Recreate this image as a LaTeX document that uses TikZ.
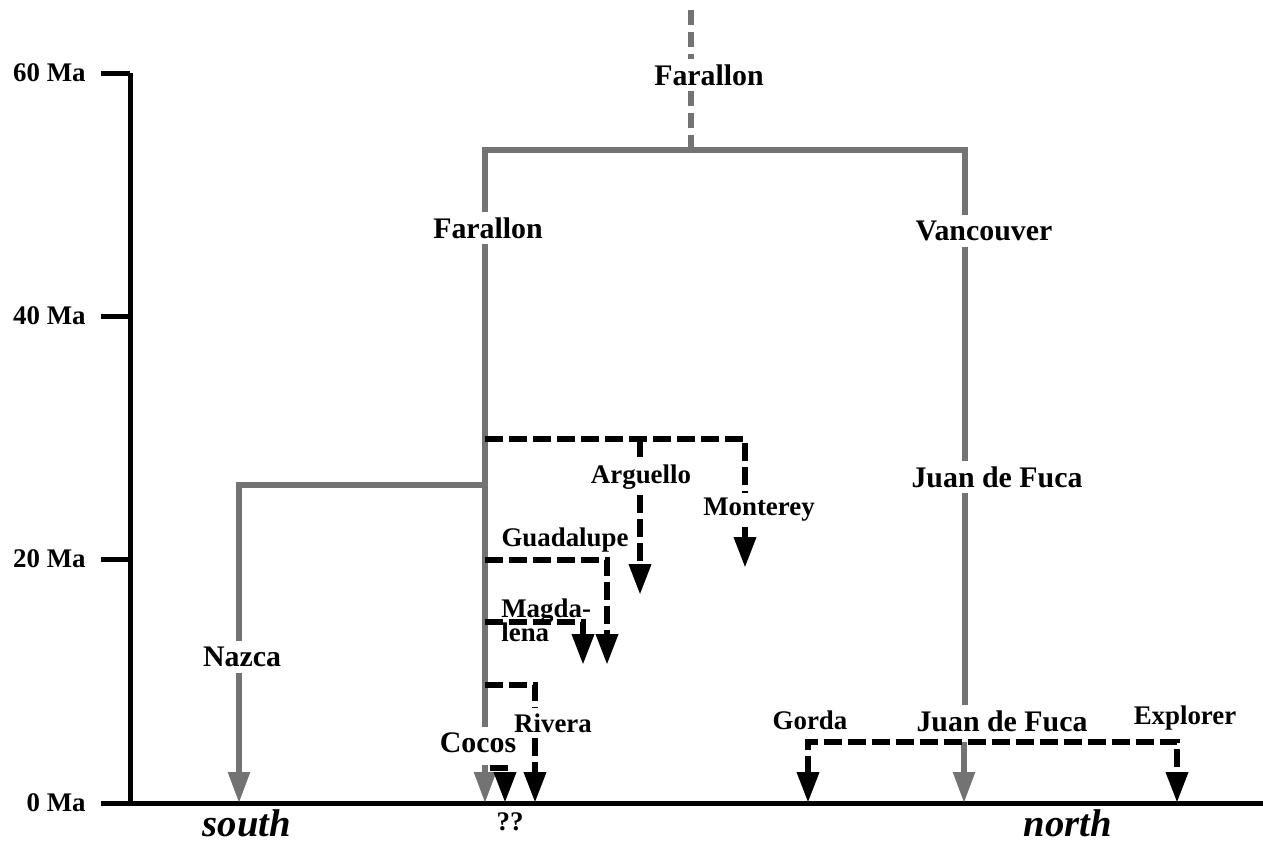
\documentclass[tikz,border=0pt]{standalone}
\usepackage{fontspec}
\setmainfont{Liberation Serif}
\usetikzlibrary{positioning,calc,arrows.meta}
\definecolor{plategray}{gray}{0.45}

\begin{document}
\begin{tikzpicture}[x=0.02cm,y=-0.02cm,
  lbl/.style={font=\fontsize{15.3}{14.2}\selectfont\bfseries,inner sep=3pt},
  biglbl/.style={font=\fontsize{17}{19}\selectfont\bfseries,inner sep=3pt},
  dirlbl/.style={font=\fontsize{22}{24}\selectfont\bfseries\itshape,inner sep=0pt},
  axis/.style={line width=0.1cm},
  old/.style={draw=plategray,line width=0.11cm},
  olddash/.style={old,dash pattern=on 0.3cm off 0.14cm},
  young/.style={draw=black,line width=0.13cm,dash pattern=on 0.36cm off 0.12cm},
  tip/.style={-{Triangle[width=0.42cm,length=0.62cm]}},
  tips/.style={{Triangle[width=0.42cm,length=0.62cm]}-{Triangle[width=0.42cm,length=0.62cm]}},
  graytip/.style={-{Triangle[width=0.42cm,length=0.62cm,fill=plategray,color=plategray]}}]
\useasboundingbox (0,0) rectangle (1263,846);
\foreach \t/\y in {60/73,40/316,20/559,0/803} {
  \coordinate (tk\t) at (130,\y);
  \node[lbl,anchor=east,inner sep=0pt] (ma\t) at (86,\y) {\t\ Ma};
  \draw[axis] (101,\y) -- (tk\t);
}
\coordinate (xend) at (1263,803);
\draw[axis] (tk60) -- (tk0) -- (xend);
\node[dirlbl,anchor=base] (south) at (247,836) {south};
\node[dirlbl,anchor=base] (north) at (1068,836) {north};
\coordinate (top) at (691,10);
\coordinate (split) at (691,150);
\coordinate (fL) at (485,150);
\coordinate (vR) at (965,150);
\node[biglbl] (farTop) at (709,75) {Farallon};
\node[biglbl] (farL) at (488,228) {Farallon};
\node[biglbl] (vanc) at (984,231) {Vancouver};
\node[biglbl] (jdf) at (997,477) {Juan de Fuca};
\node[biglbl] (jdfN) at (1002,721) {Juan de Fuca};
\node[biglbl] (cocos) at (478,743) {Cocos};
\node[biglbl] (nazca) at (242,657) {Nazca};
\draw[olddash] (top) -- (top |- farTop.north);
\draw[olddash] (top |- farTop.south) -- (split);
\draw[old] (fL |- farL.north) -- (fL) -- (vR) -- (vR |- vanc.north);
\draw[old] (fL |- farL.south) -- (fL |- cocos.north);
\draw[old] (vR |- vanc.south) -- (vR |- jdf.north);
\draw[old] (vR |- jdf.south) -- (vR |- jdfN.north);
\coordinate (jdfA) at (964,742);
\coordinate (jdfB) at (964,803);
\draw[old,graytip] (jdfA) -- (jdfB);
\coordinate (cocA) at (485,765);
\coordinate (cocB) at (485,803);
\draw[old,graytip] (cocA) -- (cocB);
\coordinate (nzSplit) at (485,485);
\coordinate (nzTop) at (239,485);
\coordinate (nzEnd) at (239,803);
\draw[old] (nzSplit) -- (nzTop) -- (nzTop |- nazca.north);
\draw[old,graytip] (nzTop |- nazca.south) -- (nzEnd);
\node[lbl] (arg) at (641,477) {Arguello};
\node[lbl] (mont) at (759,510) {Monterey};
\node[lbl] (gua) at (565,540) {Guadalupe};
\node[lbl,align=left,anchor=north west,inner sep=0pt] (mag) at (501,598) {Magda-\\lena};
\node[lbl] (riv) at (553,723) {Rivera};
\node[lbl] (qq) at (510,822) {??};
\coordinate (ySplit) at (485,439);
\coordinate (mtC) at (745,439);
\coordinate (mtEnd) at (745,568);
\coordinate (agC) at (640,439);
\coordinate (agEnd) at (640,595);
\draw[young] (ySplit) -- (mtC) -- (mtC |- mont.north);
\draw[young,tip] (mtC |- mont.south) -- (mtEnd);
\draw[young] (agC) -- (agC |- arg.north);
\draw[young,tip] (agC |- arg.south) -- (agEnd);
\coordinate (guA) at (485,560);
\coordinate (guB) at (607,665);
\draw[young,tip] (guA) -| (guB);
\coordinate (mgA) at (485,622);
\coordinate (mgB) at (583,665);
\draw[young,tip] (mgA) -| (mgB);
\coordinate (rvA) at (485,685);
\coordinate (rvC) at (535,685);
\coordinate (rvEnd) at (535,803);
\draw[young] (rvA) -- (rvC) -- (rvC |- riv.north);
\draw[young,tip] (rvC |- riv.south) -- (rvEnd);
\coordinate (qqA) at (490,768);
\coordinate (qqB) at (505,803);
\draw[young,tip] (qqA) -| (qqB);
\node[lbl] (gorda) at (810,720) {Gorda};
\node[lbl] (expl) at (1185,718) {Explorer};
\coordinate (gdEnd) at (808,803);
\coordinate (exC) at (1177,742);
\coordinate (exEnd) at (1177,803);
\draw[young,tips] (gdEnd) |- (exC) -- (exEnd);
\end{tikzpicture}
\end{document}
